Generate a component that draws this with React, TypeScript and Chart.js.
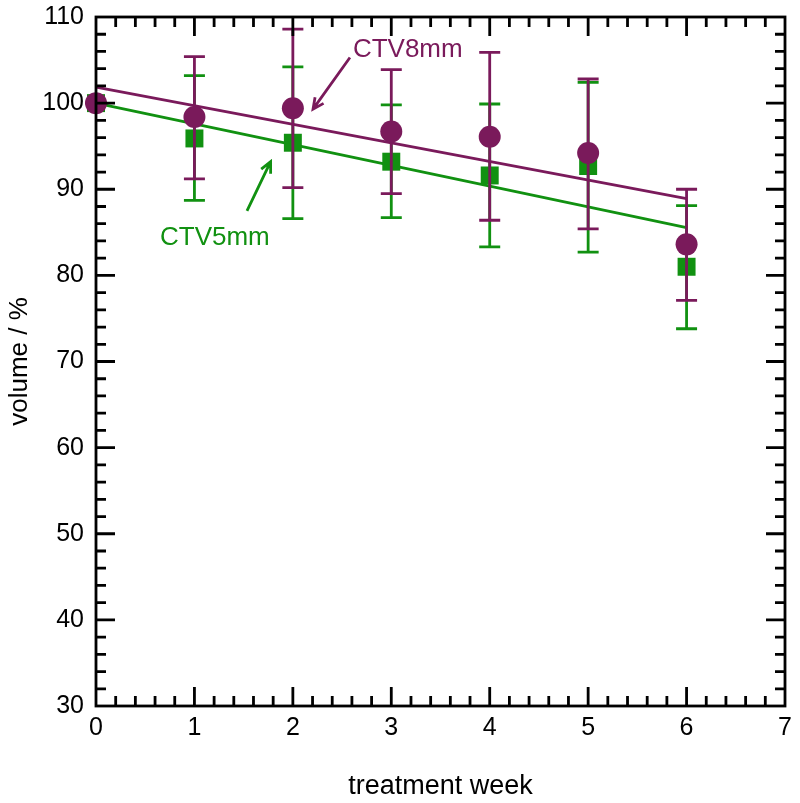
import React, { useEffect, useRef } from "react";
import { Chart, registerables } from "chart.js";

Chart.register(...registerables);

// ---- data ----
const weeks = [0, 1, 2, 3, 4, 5, 6];

const ctv8Mean = [100, 98.4, 99.4, 96.7, 96.1, 94.2, 83.6];
const ctv8Upper = [100, 105.4, 108.6, 103.9, 105.9, 102.8, 90.0];
const ctv8Lower = [100, 91.2, 90.2, 89.5, 86.4, 85.4, 77.1];

const ctv5Mean = [100, 95.9, 95.4, 93.2, 91.6, 92.7, 81.0];
const ctv5Upper = [100, 103.2, 104.2, 99.8, 99.9, 102.4, 88.1];
const ctv5Lower = [100, 88.7, 86.6, 86.7, 83.3, 82.7, 73.8];

const fitWeeks = [0, 6];
const ctv8Fit = [101.85, 88.9];
const ctv5Fit = [100.0, 85.55];

// annotation labels and arrows (data coordinates)
const ctv8Label = { text: "CTV8mm", x: 2.61, y: 105.4 };
const ctv5Label = { text: "CTV5mm", x: 0.65, y: 83.55 };
const ctv8Arrow = { from: [2.58, 105.3], to: [2.205, 99.3] };
const ctv5Arrow = { from: [1.534, 87.5], to: [1.774, 93.2] };

const xTicks = { min: 0, max: 7, step: 1, minor: 0.2 };
const yTicks = { min: 30, max: 110, step: 10, minor: 2 };

const PURPLE = "#7a1a5b";
const GREEN = "#119111";
const FONT = '"Liberation Sans", Arial, Helvetica, sans-serif';

export default function App() {
  const ref = useRef<HTMLCanvasElement | null>(null);

  useEffect(() => {
    const canvas = ref.current;
    if (!canvas) return;

    const pts = (xs: number[], ys: number[]) => xs.map((x, i) => ({ x, y: ys[i] }));

    // error bars per dataset index
    const errorSets: Record<number, { color: string; upper: number[]; lower: number[] }> = {
      1: { color: GREEN, upper: ctv5Upper, lower: ctv5Lower },
      3: { color: PURPLE, upper: ctv8Upper, lower: ctv8Lower },
    };

    const errPlugin = {
      id: "errbars",
      beforeDatasetDraw(chart: any, args: any) {
        const eb = errorSets[args.index];
        if (!eb) return;
        const { ctx, scales } = chart;
        const xs = scales.x;
        const ys = scales.y;
        ctx.save();
        ctx.strokeStyle = eb.color;
        ctx.lineWidth = 2.8;
        const cap = 10.5;
        weeks.forEach((w, i) => {
          if (eb.upper[i] === eb.lower[i]) return;
          const px = xs.getPixelForValue(w);
          const pu = ys.getPixelForValue(eb.upper[i]);
          const pl = ys.getPixelForValue(eb.lower[i]);
          ctx.beginPath();
          ctx.moveTo(px, pu);
          ctx.lineTo(px, pl);
          ctx.moveTo(px - cap, pu);
          ctx.lineTo(px + cap, pu);
          ctx.moveTo(px - cap, pl);
          ctx.lineTo(px + cap, pl);
          ctx.stroke();
        });
        ctx.restore();
      },
    };

    const framePlugin = {
      id: "frameTicks",
      afterDatasetsDraw(chart: any) {
        const { ctx, chartArea, scales } = chart;
        const { left, right, top, bottom } = chartArea;
        const xs = scales.x;
        const ys = scales.y;
        ctx.save();
        ctx.strokeStyle = "#000";
        ctx.lineWidth = 2.8;
        ctx.lineCap = "butt";
        ctx.strokeRect(left, top, right - left, bottom - top);
        const majorLen = 19;
        const minorLen = 10;
        ctx.beginPath();
        const nx = Math.round((xTicks.max - xTicks.min) / xTicks.minor);
        for (let k = 1; k < nx; k++) {
          const v = xTicks.min + k * xTicks.minor;
          const major = k % Math.round(xTicks.step / xTicks.minor) === 0;
          const len = major ? majorLen : minorLen;
          const p = xs.getPixelForValue(v);
          ctx.moveTo(p, bottom);
          ctx.lineTo(p, bottom - len);
          ctx.moveTo(p, top);
          ctx.lineTo(p, top + len);
        }
        const ny = Math.round((yTicks.max - yTicks.min) / yTicks.minor);
        for (let k = 1; k < ny; k++) {
          const v = yTicks.min + k * yTicks.minor;
          const major = k % Math.round(yTicks.step / yTicks.minor) === 0;
          const len = major ? majorLen : minorLen;
          const p = ys.getPixelForValue(v);
          ctx.moveTo(left, p);
          ctx.lineTo(left + len, p);
          ctx.moveTo(right, p);
          ctx.lineTo(right - len, p);
        }
        ctx.stroke();

        // annotations
        const arrow = (a: { from: number[]; to: number[] }, color: string) => {
          const x1 = xs.getPixelForValue(a.from[0]);
          const y1 = ys.getPixelForValue(a.from[1]);
          const x2 = xs.getPixelForValue(a.to[0]);
          const y2 = ys.getPixelForValue(a.to[1]);
          const ang = Math.atan2(y2 - y1, x2 - x1);
          const hl = 12;
          const spread = 0.45;
          ctx.strokeStyle = color;
          ctx.lineWidth = 2.8;
          ctx.beginPath();
          ctx.moveTo(x1, y1);
          ctx.lineTo(x2, y2);
          ctx.moveTo(x2 - hl * Math.cos(ang - spread), y2 - hl * Math.sin(ang - spread));
          ctx.lineTo(x2, y2);
          ctx.lineTo(x2 - hl * Math.cos(ang + spread), y2 - hl * Math.sin(ang + spread));
          ctx.stroke();
        };
        arrow(ctv8Arrow, PURPLE);
        arrow(ctv5Arrow, GREEN);

        ctx.font = `26px ${FONT}`;
        ctx.textAlign = "left";
        ctx.textBaseline = "alphabetic";
        ctx.fillStyle = PURPLE;
        ctx.fillText(ctv8Label.text, xs.getPixelForValue(ctv8Label.x), ys.getPixelForValue(ctv8Label.y));
        ctx.fillStyle = GREEN;
        ctx.fillText(ctv5Label.text, xs.getPixelForValue(ctv5Label.x), ys.getPixelForValue(ctv5Label.y));
        ctx.restore();
      },
    };

    const chart = new Chart(canvas, {
      type: "scatter",
      data: {
        datasets: [
          {
            label: "CTV5mm fit",
            data: pts(fitWeeks, ctv5Fit),
            showLine: true,
            borderColor: GREEN,
            borderWidth: 2.8,
            pointRadius: 0,
            order: 4,
            clip: false as any,
          },
          {
            label: "CTV5mm",
            data: pts(weeks, ctv5Mean),
            pointStyle: "rect",
            pointRadius: 12.7,
            pointBackgroundColor: GREEN,
            pointBorderWidth: 0,
            borderColor: GREEN,
            backgroundColor: GREEN,
            order: 3,
            clip: false as any,
          },
          {
            label: "CTV8mm fit",
            data: pts(fitWeeks, ctv8Fit),
            showLine: true,
            borderColor: PURPLE,
            borderWidth: 2.8,
            pointRadius: 0,
            order: 2,
            clip: false as any,
          },
          {
            label: "CTV8mm",
            data: pts(weeks, ctv8Mean),
            pointStyle: "circle",
            pointRadius: 11,
            pointBackgroundColor: PURPLE,
            pointBorderWidth: 0,
            borderColor: PURPLE,
            backgroundColor: PURPLE,
            order: 1,
            clip: false as any,
          },
        ],
      },
      options: {
        animation: false,
        responsive: false,
        devicePixelRatio: 1,
        layout: { padding: { left: 0, top: 17, right: 15, bottom: 0 } },
        plugins: {
          legend: { display: false },
          tooltip: { enabled: false },
          title: { display: false },
        },
        events: [],
        scales: {
          x: {
            type: "linear",
            min: xTicks.min,
            max: xTicks.max,
            grid: { display: false, drawTicks: false },
            border: { display: false },
            ticks: {
              stepSize: xTicks.step,
              color: "#000",
              padding: 7,
              font: { family: FONT, size: 25 },
              maxRotation: 0,
            },
            title: {
              display: true,
              text: "treatment week",
              color: "#000",
              font: { family: FONT, size: 27 },
              padding: { top: 0, bottom: 0 },
            },
            afterFit(scale: any) {
              scale.height = 97;
              scale.paddingLeft = 0;
              scale.paddingRight = 0;
            },
          },
          y: {
            type: "linear",
            min: yTicks.min,
            max: yTicks.max,
            grid: { display: false, drawTicks: false },
            border: { display: false },
            ticks: {
              stepSize: yTicks.step,
              color: "#000",
              padding: 12,
              font: { family: FONT, size: 25 },
            },
            title: {
              display: true,
              text: "volume / %",
              color: "#000",
              font: { family: FONT, size: 26 },
              padding: { top: 4, bottom: 0 },
            },
            afterFit(scale: any) {
              scale.width = 96;
              scale.paddingTop = 0;
              scale.paddingBottom = 0;
            },
          },
        },
      },
      plugins: [errPlugin, framePlugin],
    });

    return () => chart.destroy();
  }, []);

  return (
    <div style={{ position: "fixed", left: 0, top: 0, width: 800, height: 803, background: "#fff" }}>
      <canvas ref={ref} width={800} height={803} style={{ display: "block", width: 800, height: 803 }} />
    </div>
  );
}
